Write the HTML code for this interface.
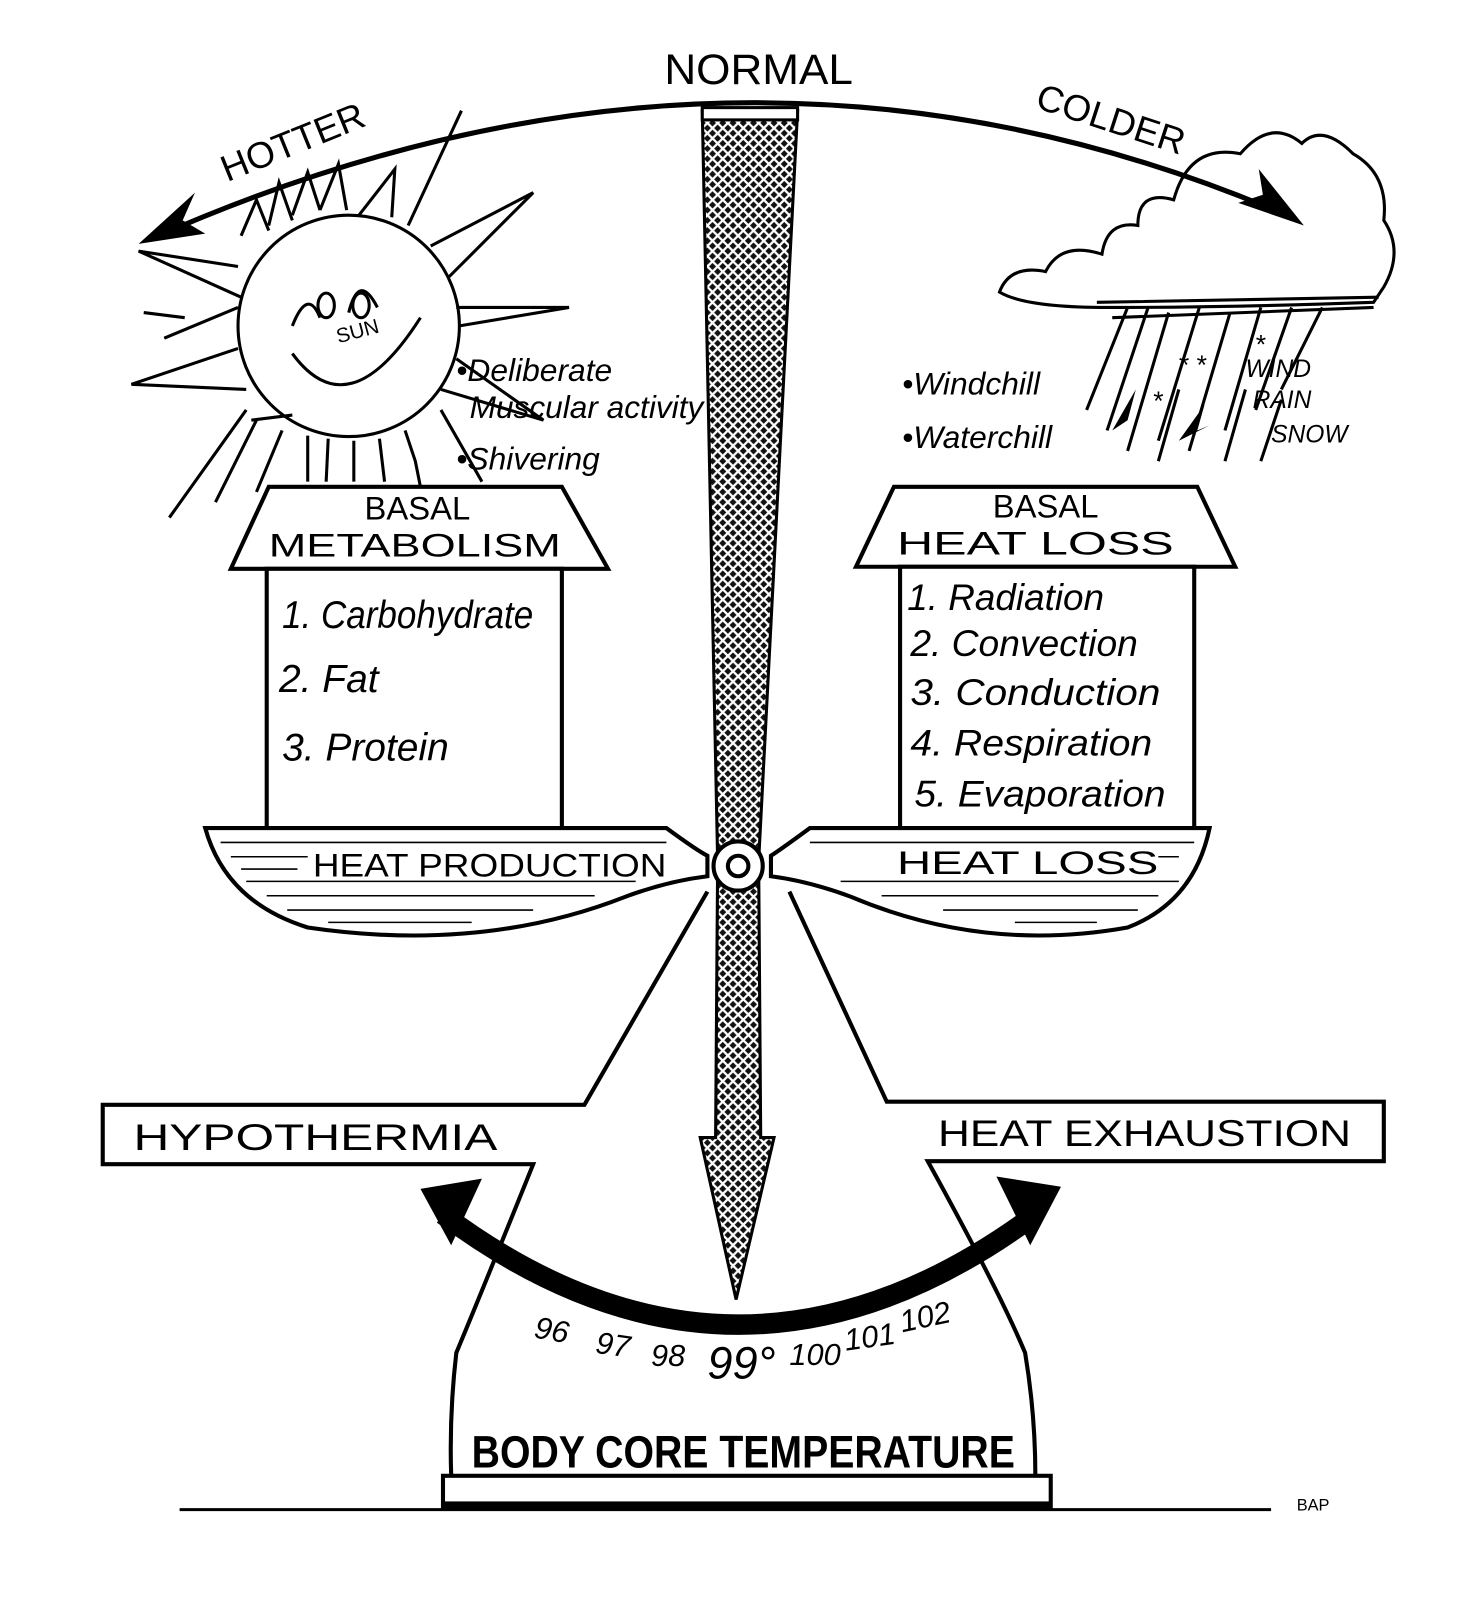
<!DOCTYPE html>
<html><head><meta charset="utf-8"><style>
html,body{margin:0;padding:0;background:#fff;}
svg{display:block;}
.t{font-family:"Liberation Sans",sans-serif;fill:#000;}
.h{font-family:"Liberation Sans Narrow","Liberation Sans",sans-serif;fill:#000;font-style:italic;}
</style></head><body>
<svg width="1464" height="1608" viewBox="0 0 1428 1569" xmlns="http://www.w3.org/2000/svg">
<defs>
<pattern id="x" width="10" height="10" patternUnits="userSpaceOnUse">
<rect width="10" height="10" fill="#111"/>
<path d="M0 0L10 10M10 0L0 10" stroke="#fff" stroke-width="2.2"/>
</pattern>
</defs>
<rect width="1428" height="1569" fill="#fff"/>

<!-- top arc -->
<path d="M150 232 Q720 -20 1255 210" fill="none" stroke="#000" stroke-width="5"/>
<polygon points="135,238 190,188 178,215 200,228" fill="#000"/>
<polygon points="1272,220 1208,198 1232,190 1228,165" fill="#000"/>
<text class="t" x="648" y="82" font-size="42" textLength="184" lengthAdjust="spacingAndGlyphs">NORMAL</text>
<text class="t" x="290" y="150" font-size="36" text-anchor="middle" transform="rotate(-22 290 150)">HOTTER</text>
<text class="t" x="1080" y="128" font-size="36" text-anchor="middle" transform="rotate(18 1080 128)">COLDER</text>

<!-- sun -->
<g stroke="#000" stroke-width="3" fill="none">
<circle cx="340" cy="318" r="108"/>
<path d="M235 230 L250 195 L262 225 M262 220 L272 178 L285 215 M285 210 L300 168 L312 205 M312 205 L330 160 L338 205 M350 210 L385 165 L382 212 M398 220 L450 108 M420 240 L520 188 L438 270 M445 300 L555 300 L448 318 M445 350 L530 410 L430 380 M232 260 L135 245 L235 290 M232 300 L160 330 M232 340 L128 375 L240 380 M240 400 L165 505 M250 410 L210 490 M275 420 L250 480 M300 425 L300 470 M320 428 L318 470 M345 430 L345 470 M370 428 L375 470 M395 420 L405 450 L410 475 M245 410 L285 405 M180 310 L140 305 M430 400 L470 470"/>
<path d="M285 345 Q340 420 410 310"/>
<path d="M285 318 Q300 280 312 310 M340 305 Q350 265 368 300"/>
<ellipse cx="318" cy="298" rx="8" ry="12"/><ellipse cx="352" cy="298" rx="8" ry="12"/>
</g>
<text class="t" x="330" y="335" font-size="20" transform="rotate(-15 330 335)">SUN</text>
<text class="h" x="445" y="372" font-size="31">•Deliberate</text>
<text class="h" x="458" y="408" font-size="31" textLength="228" lengthAdjust="spacingAndGlyphs">Muscular activity</text>
<text class="h" x="445" y="458" font-size="31">•Shivering</text>

<!-- cloud -->
<g stroke="#000" stroke-width="3" fill="none">
<path d="M975 285 Q985 258 1020 265 Q1035 235 1075 248 Q1080 215 1110 220 Q1110 185 1145 195 Q1160 140 1210 150 Q1240 115 1270 140 Q1290 120 1320 150 Q1355 170 1350 215 Q1370 245 1350 280 L1340 295 Q1200 300 1080 300 Q1000 300 975 285Z"/>
<path d="M1070 295 L1345 290 M1085 310 L1340 300"/>
<path d="M1100 300 L1060 400 M1120 300 L1080 420 M1140 305 L1100 440 M1170 300 L1130 430 M1200 305 L1160 440 M1230 300 L1195 420 M1260 300 L1225 400 M1290 300 L1250 380 M1150 380 L1130 450 M1215 380 L1195 450 M1250 390 L1230 450"/>
</g>
<polygon points="1085,420 1108,380 1100,410 1115,400" fill="#000"/>
<polygon points="1150,430 1175,395 1168,420 1180,415" fill="#000"/>
<text class="t" x="1150" y="365" font-size="26">* *</text>
<text class="t" x="1125" y="400" font-size="26">*</text>
<text class="t" x="1225" y="345" font-size="26">*</text>
<text class="h" x="1215" y="368" font-size="24">WIND</text>
<text class="h" x="1222" y="398" font-size="24">RAIN</text>
<text class="h" x="1240" y="432" font-size="24">SNOW</text>
<text class="h" x="880" y="385" font-size="31">•Windchill</text>
<text class="h" x="880" y="437" font-size="31">•Waterchill</text>

<!-- houses -->
<g stroke="#000" stroke-width="4" fill="#fff">
<polygon points="262,475 548,475 593,555 225,555"/>
<rect x="260" y="555" width="288" height="253"/>
<polygon points="872,475 1168,475 1205,553 835,553"/>
<rect x="878" y="553" width="287" height="255"/>
</g>
<text class="t" x="407" y="507" font-size="32" text-anchor="middle">BASAL</text>
<text class="t" x="262" y="543" font-size="32" textLength="285" lengthAdjust="spacingAndGlyphs">METABOLISM</text>
<text class="t" x="1020" y="505" font-size="32" text-anchor="middle">BASAL</text>
<text class="t" x="875" y="541" font-size="32" textLength="270" lengthAdjust="spacingAndGlyphs">HEAT   LOSS</text>
<g class="h" font-size="38">
<text x="275" y="613" textLength="245" lengthAdjust="spacingAndGlyphs">1. Carbohydrate</text>
<text x="272" y="675">2. Fat</text>
<text x="275" y="742">3. Protein</text>
</g>
<g class="h" font-size="36">
<text x="885" y="595">1. Radiation</text>
<text x="888" y="640" textLength="222" lengthAdjust="spacingAndGlyphs">2. Convection</text>
<text x="888" y="688" textLength="244" lengthAdjust="spacingAndGlyphs">3. Conduction</text>
<text x="888" y="737" textLength="236" lengthAdjust="spacingAndGlyphs">4. Respiration</text>
<text x="892" y="787" textLength="245" lengthAdjust="spacingAndGlyphs">5. Evaporation</text>
</g>

<!-- stand -->
<g stroke="#000" stroke-width="4" fill="none">
<path d="M690 870 L570 1078 L100 1078 L100 1136 L520 1136 Q470 1260 445 1320 Q438 1380 440 1440"/>
<path d="M770 870 L865 1075 L1350 1075 L1350 1133 L905 1133 Q975 1260 1000 1320 Q1010 1380 1010 1440"/>
<rect x="432" y="1440" width="593" height="30" fill="#fff"/>
<path d="M175 1473 L1240 1473" stroke-width="3"/>
</g>
<rect x="432" y="1465" width="593" height="8" fill="#000"/>
<text class="t" x="130" y="1122" font-size="36" textLength="355" lengthAdjust="spacingAndGlyphs">HYPOTHERMIA</text>
<text class="t" x="915" y="1118" font-size="36" textLength="403" lengthAdjust="spacingAndGlyphs">HEAT EXHAUSTION</text>
<text class="t" x="1265" y="1474" font-size="16">BAP</text>
<text class="t" x="460" y="1432" font-size="44" font-weight="bold" textLength="530" lengthAdjust="spacingAndGlyphs">BODY CORE TEMPERATURE</text>

<!-- lower arc -->
<path d="M432 1185 Q720 1400 1010 1185" fill="none" stroke="#000" stroke-width="20"/>
<polygon points="410,1160 470,1150 440,1215" fill="#000"/>
<polygon points="1035,1158 972,1148 1005,1215" fill="#000"/>
<g stroke="#fff" stroke-width="2">
<path d="M505 1220 L515 1205 M555 1240 L562 1225 M605 1258 L610 1240 M660 1270 L662 1252 M720 1275 L720 1258 M775 1265 L772 1248 M830 1255 L825 1238 M885 1240 L878 1222 M935 1220 L928 1205"/>
</g>
<g class="h" font-size="30">
<text x="520" y="1305" transform="rotate(10 520 1305)">96</text>
<text x="580" y="1320" transform="rotate(8 580 1320)">97</text>
<text x="635" y="1333">98</text>
<text x="690" y="1345" font-size="44">99°</text>
<text x="770" y="1332">100</text>
<text x="825" y="1318" transform="rotate(-8 825 1318)">101</text>
<text x="880" y="1300" transform="rotate(-12 880 1300)">102</text>
</g>

<!-- beam pans -->
<g stroke="#000" stroke-width="4">
<path d="M200 808 L650 808 Q680 830 690 835 L690 855 Q650 860 610 875 Q470 930 300 905 Q220 880 200 808Z" fill="#fff"/>
<path d="M1180 808 L790 808 Q760 830 752 835 L752 855 Q790 860 830 875 Q960 930 1100 905 Q1165 880 1180 808Z" fill="#fff"/>
</g>
<g stroke="#000" stroke-width="1.5">
<path d="M215 822 L650 822 M225 836 L300 836 M240 860 L620 860 M260 874 L580 874 M280 888 L520 888 M320 900 L460 900 M235 848 L290 848 M1165 822 L790 822 M1150 836 L1130 836 M1150 860 L820 860 M1130 874 L860 874 M1110 888 L920 888 M1070 900 L990 900"/>
</g>
<text class="t" x="305" y="855" font-size="32" textLength="345" lengthAdjust="spacingAndGlyphs">HEAT PRODUCTION</text>
<text class="t" x="875" y="853" font-size="32" textLength="255" lengthAdjust="spacingAndGlyphs">HEAT   LOSS</text>

<!-- needle -->
<path d="M685 108 L778 108 L740 840 L742 1110 L755 1110 L718 1268 L683 1110 L698 1110 L700 840 Z" fill="url(#x)" stroke="#000" stroke-width="3"/>
<rect x="685" y="105" width="93" height="12" fill="#fff" stroke="#000" stroke-width="3"/>
<circle cx="720" cy="845" r="24" fill="#fff" stroke="#000" stroke-width="4"/>
<circle cx="720" cy="845" r="10" fill="#fff" stroke="#000" stroke-width="4"/>
</svg>
</body></html>
